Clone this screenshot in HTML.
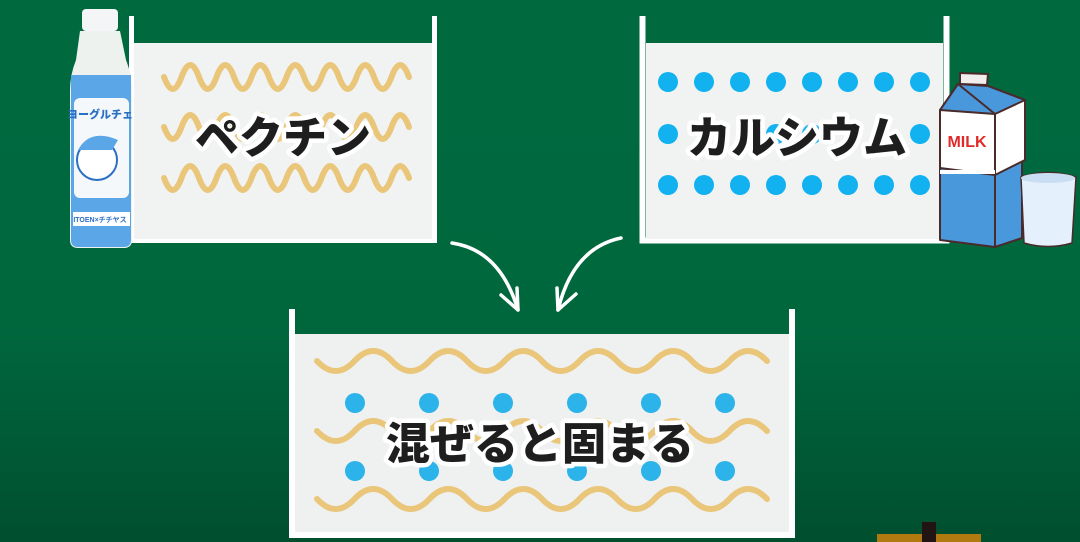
<!DOCTYPE html>
<html><head><meta charset="utf-8"><style>
html,body{margin:0;padding:0;}
body{width:1080px;height:542px;overflow:hidden;background:linear-gradient(#006a3e,#00673d 60%,#004f2f);}
svg{display:block}
.t{font-family:"Liberation Sans","Noto Sans CJK JP",sans-serif;font-weight:900;font-size:44px;fill:#1e1e1e;stroke:#fff;stroke-width:9px;paint-order:stroke;stroke-linejoin:round;}
</style></head><body>
<svg width="1080" height="542" viewBox="0 0 1080 542">
<!-- box 1 -->
<path d="M131.5,16 V240.5 H434.5 V16" fill="none" stroke="#fff" stroke-width="5"/>
<rect x="134" y="43" width="298" height="196" fill="#f1f3f3"/>
<g fill="none" stroke="#e9c679" stroke-width="6" stroke-linecap="round">
<path d="M164,77 q8.75,24 17.5,0 t17.5,0 t17.5,0 t17.5,0 t17.5,0 t17.5,0 t17.5,0 t17.5,0 t17.5,0 t17.5,0 t17.5,0 t17.5,0 t17.5,0 t17.5,0"/>
<path d="M164,127 q8.75,24 17.5,0 t17.5,0 t17.5,0 t17.5,0 t17.5,0 t17.5,0 t17.5,0 t17.5,0 t17.5,0 t17.5,0 t17.5,0 t17.5,0 t17.5,0 t17.5,0"/>
<path d="M164,178 q8.75,24 17.5,0 t17.5,0 t17.5,0 t17.5,0 t17.5,0 t17.5,0 t17.5,0 t17.5,0 t17.5,0 t17.5,0 t17.5,0 t17.5,0 t17.5,0 t17.5,0"/>
</g>
<text class="t" x="283" y="153" text-anchor="middle">ペクチン</text>

<!-- box 2 -->
<path d="M642.5,16 V240.5 H946.5 V16" fill="none" stroke="#fff" stroke-width="6"/>
<rect x="646" y="43" width="297" height="196" fill="#f1f3f3"/>
<g fill="#12b1f0">
<circle cx="668" cy="82" r="10"/><circle cx="704" cy="82" r="10"/><circle cx="740" cy="82" r="10"/><circle cx="776" cy="82" r="10"/><circle cx="812" cy="82" r="10"/><circle cx="848" cy="82" r="10"/><circle cx="884" cy="82" r="10"/><circle cx="920" cy="82" r="10"/>
<circle cx="668" cy="134" r="10"/><circle cx="776" cy="134" r="10"/><circle cx="812" cy="134" r="10"/><circle cx="920" cy="134" r="10"/>
<circle cx="668" cy="185" r="10"/><circle cx="704" cy="185" r="10"/><circle cx="740" cy="185" r="10"/><circle cx="776" cy="185" r="10"/><circle cx="812" cy="185" r="10"/><circle cx="848" cy="185" r="10"/><circle cx="884" cy="185" r="10"/><circle cx="920" cy="185" r="10"/>
</g>
<text class="t" x="797" y="153" text-anchor="middle">カルシウム</text>

<!-- box 3 -->
<path d="M292,309 V535 H792 V309" fill="none" stroke="#fff" stroke-width="6"/>
<rect x="295" y="334" width="494" height="198" fill="#eff1f1"/>
<g fill="none" stroke="#e9c679" stroke-width="6" stroke-linecap="round">
<path d="M317,361 q18.75,20 37.5,0 t37.5,0 t37.5,0 t37.5,0 t37.5,0 t37.5,0 t37.5,0 t37.5,0 t37.5,0 t37.5,0 t37.5,0 t37.5,0"/>
<path d="M317,431 q18.75,20 37.5,0 t37.5,0 t37.5,0 t37.5,0 t37.5,0 t37.5,0 t37.5,0 t37.5,0 t37.5,0 t37.5,0 t37.5,0 t37.5,0"/>
<path d="M317,499 q18.75,20 37.5,0 t37.5,0 t37.5,0 t37.5,0 t37.5,0 t37.5,0 t37.5,0 t37.5,0 t37.5,0 t37.5,0 t37.5,0 t37.5,0"/>
</g>
<g fill="#2bb3ea">
<circle cx="355" cy="403" r="10"/><circle cx="429" cy="403" r="10"/><circle cx="503" cy="403" r="10"/><circle cx="577" cy="403" r="10"/><circle cx="651" cy="403" r="10"/><circle cx="725" cy="403" r="10"/>
<circle cx="355" cy="471" r="10"/><circle cx="429" cy="471" r="10"/><circle cx="503" cy="471" r="10"/><circle cx="577" cy="471" r="10"/><circle cx="651" cy="471" r="10"/><circle cx="725" cy="471" r="10"/>
</g>
<text class="t" x="540" y="459" text-anchor="middle">混ぜると固まる</text>

<!-- arrows -->
<g fill="none" stroke="#fff" stroke-width="3.5" stroke-linecap="round" stroke-linejoin="round">
<path d="M452,243 Q500,250 518,310"/><path d="M501,295 L518,310 L517,288"/>
<path d="M621,238 Q573,248 558,310"/><path d="M557,288 L558,310 L576,294"/>
</g>

<!-- bottle -->
<rect x="82" y="9" width="36" height="22" rx="4" fill="#f3f5f7"/>
<path d="M80,31 H120 L126,60 Q132,75 132,90 V240 Q132,248 124,248 H78 Q70,248 70,240 V90 Q70,75 76,60 Z" fill="#eef2ee"/>
<path d="M71,75 H131 V240 Q131,247 124,247 H78 Q71,247 71,240 Z" fill="#5ba6e6"/>
<rect x="74" y="98" width="55" height="100" rx="6" fill="#f5f8fb"/>
<text x="100" y="118" font-family="Liberation Sans,Noto Sans CJK JP,sans-serif" font-size="11" font-weight="900" fill="#2a6fc4" text-anchor="middle">ヨーグルチェ</text>
<circle cx="97" cy="160" r="20" fill="#fff" stroke="#2a6fc4" stroke-width="2"/>
<path d="M78,150 Q90,128 118,140 L112,150 Z" fill="#5ba6e6"/>
<rect x="73" y="212" width="57" height="14" fill="#fff"/>
<text x="100" y="222" font-family="Liberation Sans,sans-serif" font-size="7" font-weight="bold" fill="#2a6fc4" text-anchor="middle">ITOEN×チチヤス</text>

<!-- milk carton -->
<g stroke="#4a2a2a" stroke-width="2" stroke-linejoin="round">
<path d="M960,73 L988,74 L987,85 L960,84 Z" fill="#f2eeee"/>
<path d="M940,110 L958,84 L988,86 L1025,100 L1022,140 L1022,238 L995,247 L940,240 Z" fill="#4a98dc"/>
<path d="M940,110 L995,114 L1025,100 L1025,160 L995,175 L940,168 Z" fill="#fff"/>
<path d="M995,114 L995,247"/>
<path d="M958,84 L995,114 M988,86 L1025,100"/>
</g>
<rect x="940" y="170" width="55" height="4" fill="#fff"/>
<text x="967" y="147" font-family="Liberation Sans,sans-serif" font-size="16" font-weight="bold" fill="#e02a2a" text-anchor="middle">MILK</text>
<path d="M1021,177 Q1048,168 1076,177 L1072,243 Q1048,250 1024,243 Z" fill="#e4f0fb" stroke="#4a2a2a" stroke-width="1.5"/>
<ellipse cx="1048" cy="178" rx="27" ry="5" fill="#c9def2"/>

<!-- bottom item -->
<rect x="877" y="534" width="104" height="8" fill="#b07a10"/>
<rect x="922" y="522" width="14" height="20" fill="#231414"/>
</svg>
</body></html>
